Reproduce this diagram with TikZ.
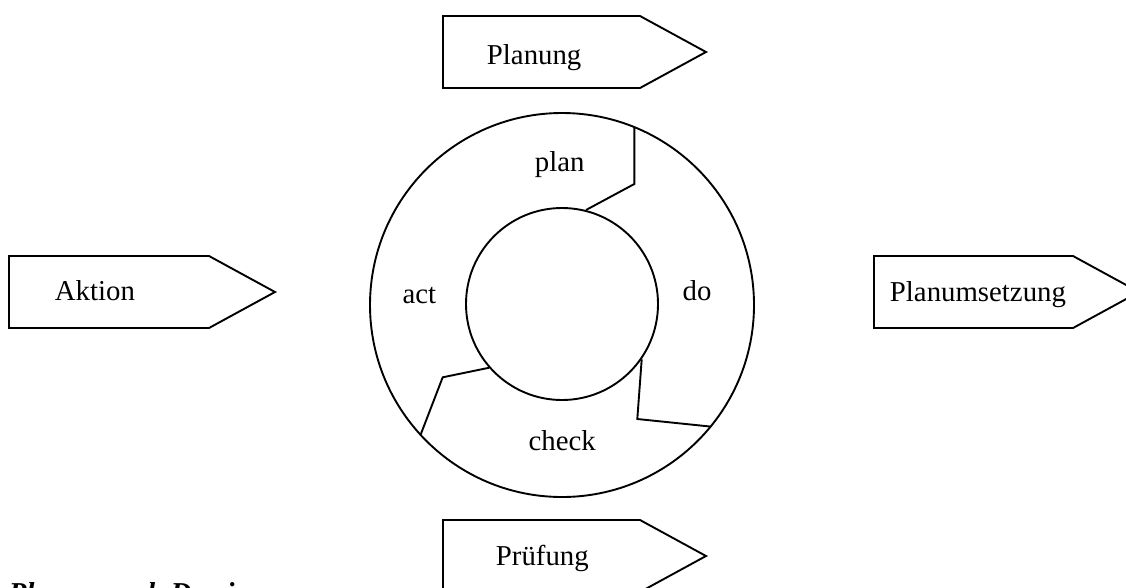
\documentclass[tikz,border=0pt]{standalone}
\usepackage{fontspec}
\setmainfont{Liberation Serif}
\begin{document}
\begin{tikzpicture}[x=1pt,y=-1pt,line width=1.9pt,line join=miter,
  lbl/.style={font=\fontsize{28.8}{34}\selectfont, inner sep=0pt, anchor=base west},
  tagshape/.style={draw, line width=1.9pt, fill=white},
  divider/.style={draw, line width=1.9pt}]
\useasboundingbox (0,0) rectangle (1126,587);
% phase arrows
\draw[tagshape] (443,16) -- (640,16) -- (706,52) -- (640,88) -- (443,88) -- cycle;
\draw[tagshape] (9,256) -- (209,256) -- (275,292) -- (209,328) -- (9,328) -- cycle;
\draw[tagshape] (874,256) -- (1073,256) -- (1139,292) -- (1073,328) -- (874,328) -- cycle;
\draw[tagshape] (443,520) -- (640,520) -- (706,556) -- (640,592) -- (443,592) -- cycle;
\node[lbl] (planung) at (486,64) {Planung};
\node[lbl] (aktion) at (54,300) {Aktion};
\node[lbl] (umsetz) at (889,301) {Planumsetzung};
\node[lbl] (pruef) at (495,565) {Prüfung};
% cycle
\draw (562,305) circle[radius=192pt];
\draw (562,304) circle[radius=96pt];
\draw[divider] (634.3,126.5) -- (634.3,184) -- (586,210);
\draw[divider] (641.7,359.3) -- (637.3,419) -- (710,426.5);
\draw[divider] (489.3,367.7) -- (442.7,377.3) -- (420.5,435);
\node[lbl] (plan) at (534,171.7) {plan};
\node[lbl] (do) at (681.7,300.7) {do};
\node[lbl] (act) at (401.7,303.3) {act};
\node[lbl] (check) at (527.7,450) {check};
% caption (cut off at the bottom edge, as in the reference)
\node[lbl, font=\fontsize{28.8}{34}\selectfont\bfseries\itshape] (caption) at (8,602) {Phasen nach Deming};
\end{tikzpicture}
\end{document}
